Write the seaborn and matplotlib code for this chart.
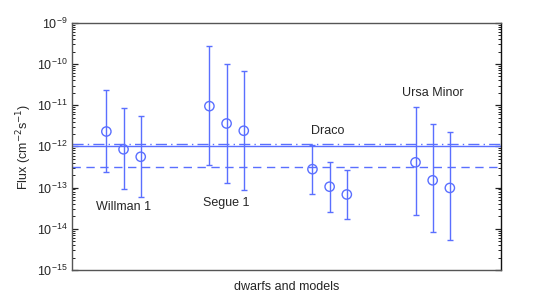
import numpy as np
import matplotlib
matplotlib.use("Agg")
import matplotlib.pyplot as plt
import matplotlib.ticker as mticker
import seaborn as sns

# -------------------------------
# Data
# -------------------------------
positions = [2, 3, 4, 8, 9, 10, 14, 15, 16, 20, 21, 22]
flux = [2.3e-12, 8.5e-13, 5.6e-13,
        9.5e-12, 3.6e-12, 2.4e-12,
        2.8e-13, 1.05e-13, 6.8e-14,
        4.1e-13, 1.5e-13, 9.8e-14]
flux_hi = [2.3e-11, 8.5e-12, 5.4e-12,
           2.7e-10, 1.0e-10, 6.7e-11,
           1.1e-12, 4.1e-13, 2.7e-13,
           9.3e-12, 3.5e-12, 2.3e-12]
flux_lo = [2.4e-13, 9.1e-14, 5.9e-14,
           3.5e-13, 1.3e-13, 8.5e-14,
           7.1e-14, 2.6e-14, 1.7e-14,
           2.2e-14, 8.3e-15, 5.4e-15]

# model lines
limit_solid = 1.0e-12
limit_dashdot = 1.17e-12
limit_dashed = 3.1e-13

dwarf_names = ["Willman 1", "Segue 1", "Draco", "Ursa Minor"]
label_x = [3.0, 9.0, 14.9, 21.0]
label_y = [3.3e-14, 4.2e-14, 2.4e-12, 2.0e-11]

blue = "#5a6fff"

sns.set_style("white")
plt.rcParams["font.family"] = ["Liberation Sans", "DejaVu Sans"]

fig, ax = plt.subplots(figsize=(5.54, 3.05), dpi=100)
fig.subplots_adjust(left=0.13, right=0.905, top=0.925, bottom=0.115)

flux = np.array(flux)
yerr = [flux - np.array(flux_lo), np.array(flux_hi) - flux]
ax.errorbar(positions, flux, yerr=yerr, fmt="none", ecolor=blue,
            elinewidth=1.0, capsize=2.5, capthick=1.0)
sns.scatterplot(x=positions, y=flux, ax=ax, marker="o", s=45,
                facecolors="none", edgecolor=blue, linewidth=1.0, zorder=3)

ax.axhline(limit_solid, color=blue, lw=1.0, ls="-")
ax.axhline(limit_dashdot, color=blue, lw=1.0, ls=(0, (8, 3, 1, 3)))
ax.axhline(limit_dashed, color=blue, lw=1.0, ls=(0, (6, 4)))

for name, tx, ty in zip(dwarf_names, label_x, label_y):
    ax.text(tx, ty, name, ha="center", va="center", fontsize=9)

ax.set_yscale("log")
ax.set_ylim(1e-15, 1e-9)
ax.set_xlim(0, 25)
ax.set_xticks([])
ax.set_yticks([1e-15, 1e-14, 1e-13, 1e-12, 1e-11, 1e-10, 1e-9])
ax.yaxis.set_minor_locator(mticker.LogLocator(base=10, subs=np.arange(2, 10), numticks=20))
ax.yaxis.set_minor_formatter(mticker.NullFormatter())
ax.yaxis.set_tick_params(which="both", direction="in", left=True, right=True,
                         labelleft=True, color="#222222", labelsize=9)
ax.yaxis.set_tick_params(which="major", length=4, width=0.9)
ax.yaxis.set_tick_params(which="minor", length=2.2, width=0.7)
for s in ax.spines.values():
    s.set_color("#555555")
    s.set_linewidth(1.0)
ax.spines["right"].set_color("#111111")

ax.set_xlabel("dwarfs and models", fontsize=9, labelpad=8)
ax.set_ylabel("Flux (cm$^{-2}$s$^{-1}$)", fontsize=9, labelpad=2)

fig.savefig("out.png", dpi=100)
